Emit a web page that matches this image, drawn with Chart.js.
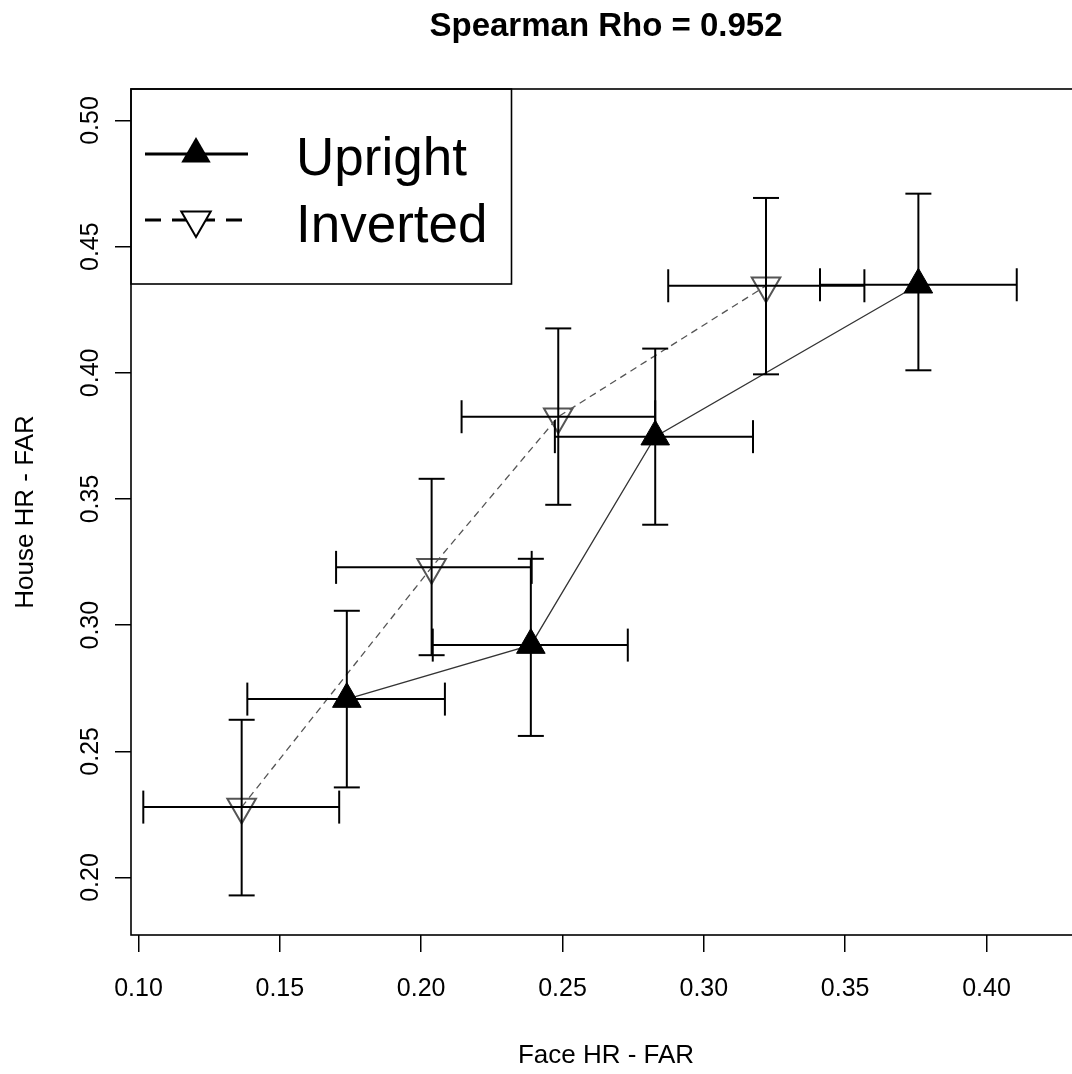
<!DOCTYPE html>
<html>
<head>
<meta charset="utf-8">
<script src="https://cdn.jsdelivr.net/npm/chart.js@4.4.0/dist/chart.umd.min.js"></script>
<style>
  html, body { margin: 0; padding: 0; background: #fff; overflow: hidden; }
  #wrap { width: 1212px; height: 1074px; }
</style>
</head>
<body>
<div id="wrap"><canvas id="c" width="1212" height="1074"></canvas></div>
<script>
// ---- data ----
const titleText = 'Spearman Rho = 0.952';
const xTitle = 'Face HR - FAR';
const yTitle = 'House HR - FAR';
const seriesNames = ['Upright', 'Inverted'];

const xTicks = [0.10, 0.15, 0.20, 0.25, 0.30, 0.35, 0.40];
const yTicks = [0.20, 0.25, 0.30, 0.35, 0.40, 0.45, 0.50];

const uprightX     = [0.1737, 0.2388, 0.2828, 0.3759];
const uprightY     = [0.2707, 0.2921, 0.3747, 0.4349];
const uprightXLow  = [0.1385, 0.2041, 0.2473, 0.3411];
const uprightXHigh = [0.2084, 0.2731, 0.3174, 0.4107];
const uprightYLow  = [0.2357, 0.2561, 0.3398, 0.4010];
const uprightYHigh = [0.3057, 0.3263, 0.4096, 0.4710];

const invertedX     = [0.1365, 0.2037, 0.2485, 0.3220];
const invertedY     = [0.2279, 0.3229, 0.3826, 0.4345];
const invertedXLow  = [0.1017, 0.1699, 0.2143, 0.2874];
const invertedXHigh = [0.1710, 0.2391, 0.2828, 0.3568];
const invertedYLow  = [0.1929, 0.2881, 0.3477, 0.3994];
const invertedYHigh = [0.2625, 0.3580, 0.4176, 0.4693];

const xMin = 0.09735, xMax = 0.43343;
const yMin = 0.17721, yMax = 0.51248;

// ---- build ----
const FONT = "'Liberation Sans', Arial, Helvetica, sans-serif";
Chart.defaults.font.family = FONT;
Chart.defaults.color = '#000';

const toPts = (xs, ys) => xs.map((v, i) => ({ x: v, y: ys[i] }));

const errorSets = [
  { x: uprightX, y: uprightY, xl: uprightXLow, xh: uprightXHigh, yl: uprightYLow, yh: uprightYHigh },
  { x: invertedX, y: invertedY, xl: invertedXLow, xh: invertedXHigh, yl: invertedYLow, yh: invertedYHigh }
];

const errorBarPlugin = {
  id: 'errorBars',
  afterDatasetsDraw(chart) {
    const xs = chart.scales.x, ys = chart.scales.y, ctx = chart.ctx;
    ctx.save();
    ctx.strokeStyle = '#000';
    ctx.lineWidth = 2;
    ctx.lineCap = 'butt';
    const seg = (a, b, c, d) => { ctx.beginPath(); ctx.moveTo(a, b); ctx.lineTo(c, d); ctx.stroke(); };
    errorSets.forEach(s => {
      s.x.forEach((xv, i) => {
        const px = xs.getPixelForValue(xv), py = ys.getPixelForValue(s.y[i]);
        const y1 = ys.getPixelForValue(s.yl[i]), y2 = ys.getPixelForValue(s.yh[i]);
        seg(px, y1, px, y2);
        seg(px - 13, y1, px + 13, y1);
        seg(px - 13, y2, px + 13, y2);
        const x1 = xs.getPixelForValue(s.xl[i]), x2 = xs.getPixelForValue(s.xh[i]);
        seg(x1, py, x2, py);
        seg(x1, py - 16.5, x1, py + 16.5);
        seg(x2, py - 16.5, x2, py + 16.5);
      });
    });
    ctx.restore();
  }
};

const framePlugin = {
  id: 'frameAndLegend',
  afterDraw(chart) {
    const ctx = chart.ctx, a = chart.chartArea;
    ctx.save();
    ctx.strokeStyle = '#000';
    ctx.lineWidth = 1.6;
    ctx.strokeRect(a.left, a.top, a.right - a.left, a.bottom - a.top);
    // legend box
    const lx = a.left, ly = a.top, lw = 380.5, lh = 195;
    ctx.strokeRect(lx, ly, lw, lh);
    const r = 17, cx = lx + 65, cy = ly + 65, cy2 = ly + 131;
    // entry 1: solid line + filled triangle
    ctx.lineWidth = 3;
    ctx.setLineDash([]);
    ctx.beginPath(); ctx.moveTo(lx + 14, cy); ctx.lineTo(lx + 117, cy); ctx.stroke();
    ctx.fillStyle = '#000';
    ctx.beginPath();
    ctx.moveTo(cx, cy - r); ctx.lineTo(cx + 0.866 * r, cy + r / 2); ctx.lineTo(cx - 0.866 * r, cy + r / 2); ctx.closePath();
    ctx.fill();
    // entry 2: dashed line + open inverted triangle
    ctx.setLineDash([16, 11]);
    ctx.beginPath(); ctx.moveTo(lx + 14, cy2); ctx.lineTo(lx + 117, cy2); ctx.stroke();
    ctx.setLineDash([]);
    ctx.lineWidth = 2;
    ctx.fillStyle = '#fff';
    ctx.beginPath();
    ctx.moveTo(cx, cy2 + r); ctx.lineTo(cx + 0.866 * r, cy2 - r / 2); ctx.lineTo(cx - 0.866 * r, cy2 - r / 2); ctx.closePath();
    ctx.fill(); ctx.stroke();
    // texts
    ctx.fillStyle = '#000';
    ctx.font = '53px ' + FONT;
    ctx.textAlign = 'left';
    ctx.textBaseline = 'alphabetic';
    ctx.fillText(seriesNames[0], lx + 165, ly + 86);
    ctx.fillText(seriesNames[1], lx + 165, ly + 152.5);
    ctx.restore();
  }
};

new Chart(document.getElementById('c'), {
  type: 'scatter',
  data: {
    datasets: [
      {
        label: seriesNames[0],
        data: toPts(uprightX, uprightY),
        showLine: true,
        borderColor: '#333',
        borderWidth: 1.3,
        pointStyle: 'triangle',
        pointRadius: 16.5,
        pointHoverRadius: 16.5,
        pointBackgroundColor: '#000',
        pointBorderColor: '#000',
        pointBorderWidth: 1
      },
      {
        label: seriesNames[1],
        data: toPts(invertedX, invertedY),
        showLine: true,
        borderColor: '#555',
        borderWidth: 1.3,
        borderDash: [7, 5],
        pointStyle: 'triangle',
        rotation: 180,
        pointRadius: 16.5,
        pointHoverRadius: 16.5,
        pointBackgroundColor: 'rgba(255,255,255,0)',
        pointBorderColor: '#555',
        pointBorderWidth: 2
      }
    ]
  },
  options: {
    responsive: false,
    animation: false,
    events: [],
    layout: { padding: 0 },
    plugins: {
      legend: { display: false },
      tooltip: { enabled: false },
      title: {
        display: true,
        text: titleText,
        color: '#000',
        font: { family: FONT, size: 33, weight: 'bold', lineHeight: 1.2 },
        padding: { top: 7.5, bottom: 41.9 }
      }
    },
    scales: {
      x: {
        type: 'linear',
        min: xMin,
        max: xMax,
        afterBuildTicks: s => { s.ticks = xTicks.map(v => ({ value: v })); },
        afterFit: s => { s.height = 139; },
        ticks: {
          padding: 22.5,
          font: { size: 25 },
          color: '#000',
          callback: v => v.toFixed(2),
          maxRotation: 0,
          minRotation: 0,
          autoSkip: false
        },
        grid: { drawOnChartArea: false, drawTicks: true, tickLength: 17, color: '#000', lineWidth: 1.5 },
        border: { display: false },
        title: {
          display: true,
          text: xTitle,
          color: '#000',
          font: { size: 26, lineHeight: 1.2 },
          padding: { top: 0, bottom: 2.4 }
        }
      },
      y: {
        type: 'linear',
        min: yMin,
        max: yMax,
        afterBuildTicks: s => { s.ticks = yTicks.map(v => ({ value: v })); },
        afterFit: s => { s.width = 131; },
        ticks: {
          padding: 0,
          font: { size: 25 },
          color: '#000',
          minRotation: 90,
          maxRotation: 90,
          crossAlign: 'center',
          callback: v => v.toFixed(2),
          autoSkip: false
        },
        grid: { drawOnChartArea: false, drawTicks: true, tickLength: 16, color: '#000', lineWidth: 1.5 },
        border: { display: false },
        title: {
          display: true,
          text: yTitle,
          color: '#000',
          font: { size: 26, lineHeight: 1.2 },
          padding: { top: 10.4, bottom: 0 }
        }
      },
      yRight: {
        type: 'linear',
        position: 'right',
        display: true,
        min: yMin,
        max: yMax,
        afterFit: s => { s.width = 131; },
        ticks: { display: false },
        grid: { display: false, drawTicks: false },
        border: { display: false },
        title: { display: false }
      }
    }
  },
  plugins: [errorBarPlugin, framePlugin]
});
</script>
</body>
</html>
